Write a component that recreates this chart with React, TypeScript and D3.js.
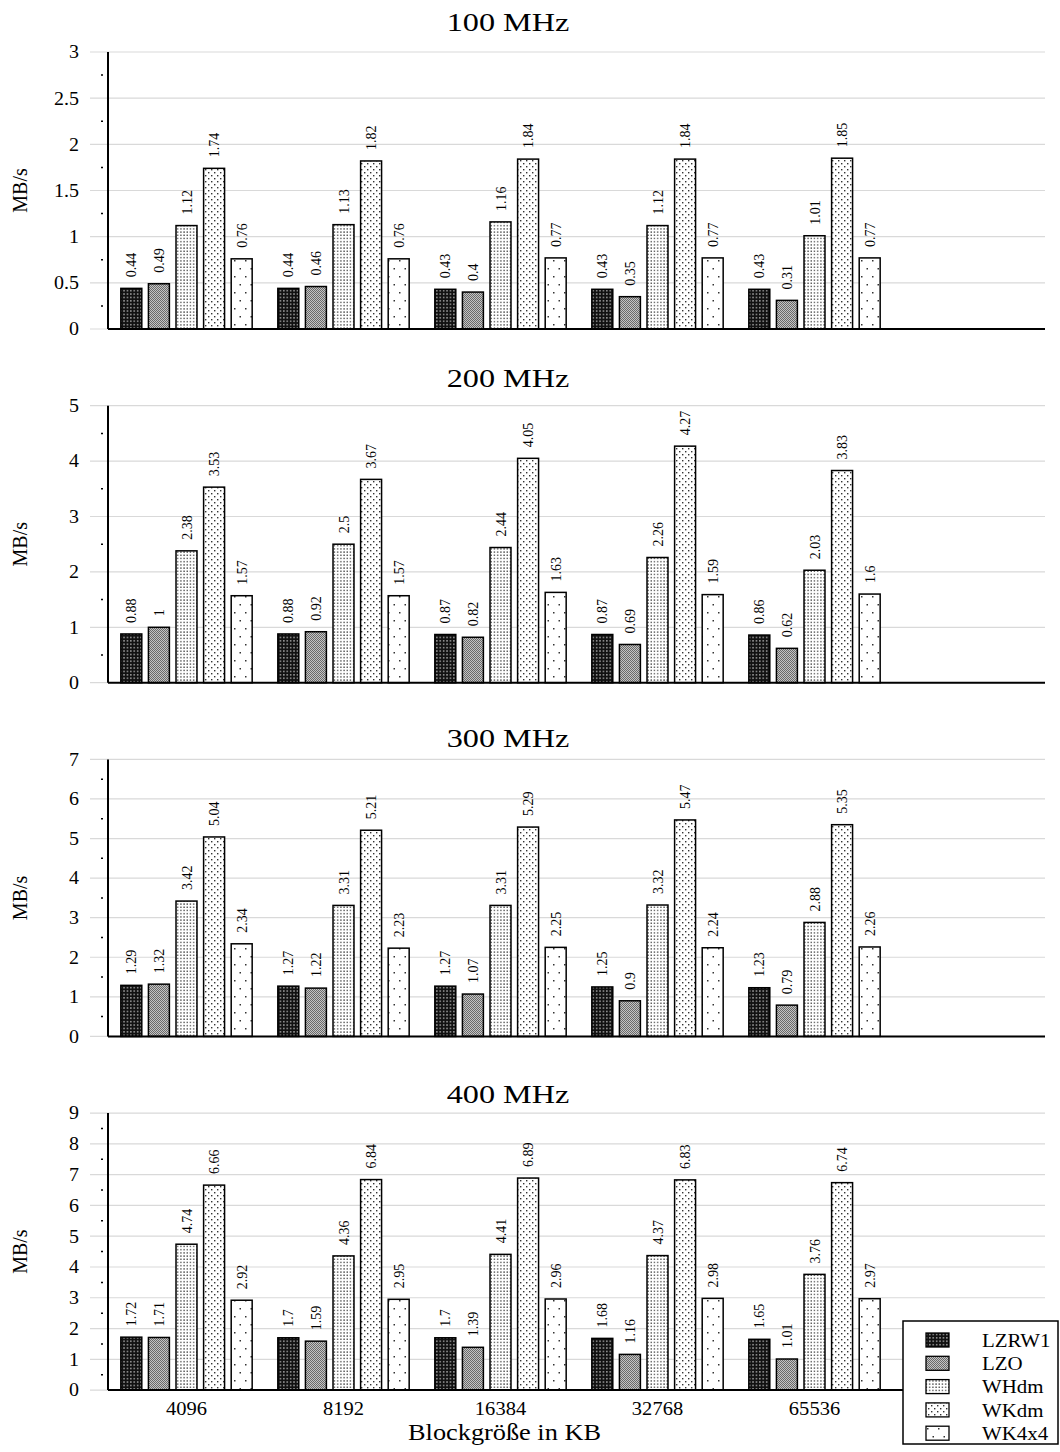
import React from 'react';
import * as d3 from 'd3';

// block sizes (x categories) and algorithms (series)
const categories = ['4096', '8192', '16384', '32768', '65536'];
const series = ['LZRW1', 'LZO', 'WHdm', 'WKdm', 'WK4x4'];

const panelTitles = ['100 MHz', '200 MHz', '300 MHz', '400 MHz'];
const panelMax = [3, 5, 7, 9];
const panelStep = [0.5, 1, 1, 1];

// values[series][category]
const mhz100 = [
  [0.44, 0.44, 0.43, 0.43, 0.43],
  [0.49, 0.46, 0.4, 0.35, 0.31],
  [1.12, 1.13, 1.16, 1.12, 1.01],
  [1.74, 1.82, 1.84, 1.84, 1.85],
  [0.76, 0.76, 0.77, 0.77, 0.77],
];
const mhz200 = [
  [0.88, 0.88, 0.87, 0.87, 0.86],
  [1, 0.92, 0.82, 0.69, 0.62],
  [2.38, 2.5, 2.44, 2.26, 2.03],
  [3.53, 3.67, 4.05, 4.27, 3.83],
  [1.57, 1.57, 1.63, 1.59, 1.6],
];
const mhz300 = [
  [1.29, 1.27, 1.27, 1.25, 1.23],
  [1.32, 1.22, 1.07, 0.9, 0.79],
  [3.42, 3.31, 3.31, 3.32, 2.88],
  [5.04, 5.21, 5.29, 5.47, 5.35],
  [2.34, 2.23, 2.25, 2.24, 2.26],
];
const mhz400 = [
  [1.72, 1.7, 1.7, 1.68, 1.65],
  [1.71, 1.59, 1.39, 1.16, 1.01],
  [4.74, 4.36, 4.41, 4.37, 3.76],
  [6.66, 6.84, 6.89, 6.83, 6.74],
  [2.92, 2.95, 2.96, 2.98, 2.97],
];
const panelData = [mhz100, mhz200, mhz300, mhz400];

const W = 1060;
const H = 1452;
const left = 108;
const gridRight = 1045;
const plotH = 277;
const firstTop = 52;
const panelGap = 353.7;
// title distance above each plot (they are not evenly placed in the original)
const titleOffset = [30, 28, 21, 19];
const font = 'Liberation Serif';

const patternIds = ['p-lzrw1', 'p-lzo', 'p-whdm', 'p-wkdm', 'p-wk4x4'];

// the original's lettering is a bit wider than plain Times
function Label({
  x,
  y,
  size,
  sx = 1.1,
  anchor = 'middle',
  children,
}: {
  x: number;
  y: number;
  size: number;
  sx?: number;
  anchor?: string;
  children: React.ReactNode;
}) {
  return (
    <text
      transform={`translate(${x},${y}) scale(${sx},1)`}
      textAnchor={anchor}
      dominantBaseline="central"
      fontSize={size}
      style={{ fontFamily: font }}
    >
      {children}
    </text>
  );
}

function Patterns() {
  return (
    <defs>
      <pattern id="p-lzrw1" width={3.4} height={3.4} patternUnits="userSpaceOnUse">
        <rect width={3.4} height={3.4} fill="#111" />
        <rect x={1} y={1} width={1.3} height={1.3} fill="#ccc" />
      </pattern>
      <pattern id="p-lzo" width={2} height={2} patternUnits="userSpaceOnUse">
        <rect width={2} height={2} fill="#c4c4c4" />
        <rect width={1} height={1} fill="#6a6a6a" />
        <rect x={1} y={1} width={1} height={1} fill="#6a6a6a" />
      </pattern>
      <pattern id="p-whdm" width={3.2} height={3.2} patternUnits="userSpaceOnUse">
        <rect width={3.2} height={3.2} fill="#fff" />
        <rect x={1} y={1} width={1.4} height={1.4} fill="#555" />
      </pattern>
      <pattern id="p-wkdm" width={6} height={6} patternUnits="userSpaceOnUse">
        <rect width={6} height={6} fill="#fff" />
        <rect x={1} y={1} width={1.4} height={1.4} fill="#333" />
        <rect x={4} y={4} width={1.4} height={1.4} fill="#333" />
      </pattern>
      <pattern id="p-wk4x4" width={11} height={16} patternUnits="userSpaceOnUse">
        <rect width={11} height={16} fill="#fff" />
        <rect x={3} y={4} width={1.5} height={1.5} fill="#333" />
        <rect x={8.5} y={12} width={1.5} height={1.5} fill="#333" />
      </pattern>
    </defs>
  );
}

function Panel({ index }: { index: number }) {
  const top = firstTop + index * panelGap;
  const bottom = top + plotH;
  const data = panelData[index];
  const yMax = panelMax[index];
  const step = panelStep[index];

  const x0 = d3.scaleBand<string>().domain(categories).range([left, left + 785]);
  const x1 = d3
    .scaleBand<string>()
    .domain(series)
    .range([0, x0.bandwidth()])
    .paddingInner(0.24)
    .paddingOuter(0.465);
  const y = d3.scaleLinear().domain([0, yMax]).range([bottom, top]);

  const ticks = d3.range(0, yMax + step / 2, step);
  const minor = d3.range(step / 2, yMax, step);

  return (
    <g>
      <Label x={508} y={top - titleOffset[index]} size={26} sx={1.24}>
        {panelTitles[index]}
      </Label>
      {ticks.map((t) => (
        <g key={t}>
          <line x1={90} x2={gridRight} y1={y(t)} y2={y(t)} stroke="#d9d9d9" strokeWidth={1.2} />
          <Label x={79} y={y(t)} size={19} sx={1.05} anchor="end">
            {String(t)}
          </Label>
        </g>
      ))}
      {minor.map((t) => (
        <line key={t} x1={101} x2={103} y1={y(t)} y2={y(t)} stroke="#000" strokeWidth={1.5} />
      ))}
      <text
        transform={`translate(20,${(top + bottom) / 2}) rotate(-90)`}
        textAnchor="middle"
        dominantBaseline="central"
        fontSize={20}
        style={{ fontFamily: font }}
      >
        MB/s
      </text>
      {series.map((s, si) =>
        categories.map((c, ci) => {
          const v = data[si][ci];
          const bx = (x0(c) ?? 0) + (x1(s) ?? 0);
          const bw = x1.bandwidth();
          return (
            <g key={s + c}>
              <rect
                x={bx}
                y={y(v)}
                width={bw}
                height={bottom - y(v)}
                fill={`url(#${patternIds[si]})`}
                stroke="#000"
                strokeWidth={1.5}
              />
              <text
                transform={`translate(${bx + bw / 2 + 0.5},${y(v) - 11}) rotate(-90)`}
                textAnchor="start"
                dominantBaseline="central"
                fontSize={14}
                style={{ fontFamily: font }}
              >
                {String(v)}
              </text>
            </g>
          );
        })
      )}
      <line x1={left} x2={left} y1={top} y2={bottom} stroke="#000" strokeWidth={2} />
      <line x1={left} x2={gridRight} y1={bottom} y2={bottom} stroke="#000" strokeWidth={2} />
      {index === panelData.length - 1 &&
        categories.map((c) => (
          <Label key={c} x={(x0(c) ?? 0) + x0.bandwidth() / 2} y={bottom + 18} size={19} sx={1.08}>
            {c}
          </Label>
        ))}
    </g>
  );
}

function Legend() {
  const lx = 903;
  const ly = 1321;
  return (
    <g>
      <rect x={lx} y={ly} width={155} height={123} fill="#fff" stroke="#000" strokeWidth={1.5} />
      {series.map((s, i) => {
        const cy = ly + 19 + i * 23.3;
        return (
          <g key={s}>
            <rect
              x={lx + 23}
              y={cy - 7}
              width={23}
              height={14}
              fill={`url(#${patternIds[i]})`}
              stroke="#000"
              strokeWidth={1.3}
            />
            <Label x={lx + 79} y={cy} size={19} sx={1.1} anchor="start">
              {s}
            </Label>
          </g>
        );
      })}
    </g>
  );
}

export default function App() {
  return (
    <svg
      width={W}
      height={H}
      style={{ position: 'absolute', left: 0, top: 0, background: '#fff' }}
    >
      <Patterns />
      <rect width={W} height={H} fill="#fff" />
      {panelTitles.map((_, i) => (
        <Panel key={i} index={i} />
      ))}
      <Label x={(left + left + 785) / 2 + 4} y={1432} size={22.5} sx={1.17}>
        Blockgröße in KB
      </Label>
      <Legend />
    </svg>
  );
}
